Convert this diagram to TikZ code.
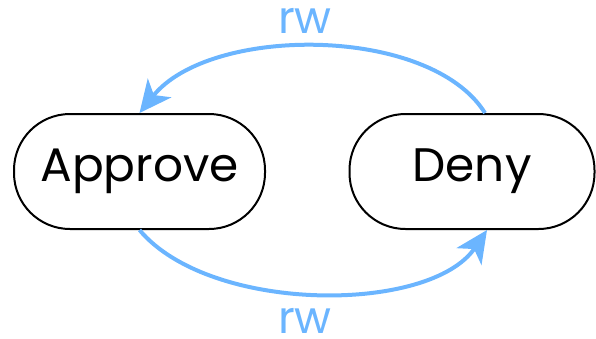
\documentclass[tikz,border=0pt]{standalone}
\usepackage{fontspec}
\setmainfont{Poppins}
\usetikzlibrary{arrows.meta,calc}
\definecolor{arrowblue}{HTML}{6BB5FF}
\begin{document}
\begin{tikzpicture}[x=1pt,y=-1pt,
  state/.style={draw=black,line width=2pt,rounded corners=56pt,minimum height=115pt,inner sep=0pt,font=\fontsize{47}{52}\selectfont},
  conn/.style={draw=arrowblue,line width=4pt,-{Stealth[length=32pt,width=30pt,inset=9pt]}},
  lbl/.style={text=arrowblue,inner sep=0pt,anchor=base,font=\fontsize{45}{50}\selectfont}]
\useasboundingbox (0,0) rectangle (596,338);
\node[state,minimum width=251pt] (approve) at (139.5,171.5) {Approve};
\node[state,minimum width=245pt] (deny) at (472,171.5) {Deny};
\coordinate (dtop) at ($(deny.north)+(13,0)$);
\coordinate (dbot) at ($(deny.south)+(15,0)$);
\draw[conn] (dtop) .. controls (430,25) and (210,25) .. (approve.north);
\draw[conn] (approve.south) .. controls (210,314) and (430,314) .. (dbot);
\node[lbl] (top) at (305,33) {rw};
\node[lbl] (bot) at (305,333) {rw};
\end{tikzpicture}
\end{document}
